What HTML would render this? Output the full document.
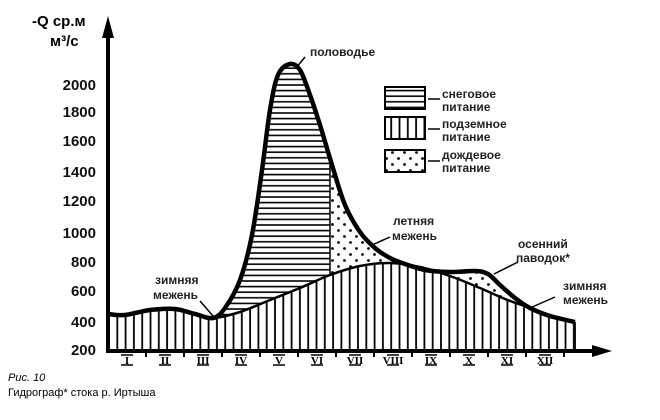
<!DOCTYPE html>
<html><head><meta charset="utf-8"><style>
html,body{margin:0;padding:0;background:#fff;width:660px;height:420px;overflow:hidden}
svg{display:block;font-family:"Liberation Sans",sans-serif}
</style></head><body>
<svg id="s" width="660" height="420" viewBox="0 0 660 420" xmlns="http://www.w3.org/2000/svg">
<defs>
<pattern id="hz" width="10" height="5.6" patternUnits="userSpaceOnUse"><rect width="10" height="5.6" fill="#fff"/><line x1="0" y1="1" x2="10" y2="1" stroke="#000" stroke-width="1.6"/></pattern>
<pattern id="vt" x="108" width="8.3" height="10" patternUnits="userSpaceOnUse"><rect width="8.3" height="10" fill="#fff"/><line x1="1" y1="0" x2="1" y2="10" stroke="#000" stroke-width="1.8"/></pattern>
<pattern id="dt" width="12" height="12" patternUnits="userSpaceOnUse"><rect width="12" height="12" fill="#fff"/><circle cx="2.5" cy="2.5" r="1.4" fill="#000"/><circle cx="8.5" cy="8.5" r="1.4" fill="#000"/></pattern>
<clipPath id="cl"><rect x="0" y="0" width="330" height="420"/></clipPath>
</defs>
<g id="areas"></g>
<line x1="108" y1="352" x2="108" y2="30" stroke="#000" stroke-width="4"/>
<polygon points="108,16 102,38 114,38" fill="#000"/>
<line x1="106" y1="351" x2="598" y2="351" stroke="#000" stroke-width="4"/>
<polygon points="612,351 592,345 592,357" fill="#000"/>
<g id="ticks"></g>
<g font-weight="bold" font-size="15" text-anchor="end" fill="#111">
<text x="96" y="90">2000</text><text x="96" y="117">1800</text><text x="96" y="146">1600</text>
<text x="96" y="177">1400</text><text x="96" y="206">1200</text><text x="96" y="238">1000</text>
<text x="96" y="267">800</text><text x="96" y="296">600</text><text x="96" y="327">400</text><text x="96" y="355">200</text>
</g>
<text x="32" y="26" font-size="15" font-weight="bold">-Q ср.м</text>
<text x="50" y="46" font-size="15" font-weight="bold">м³/с</text>
<g font-family="Liberation Serif,serif" font-weight="bold" font-size="11" text-anchor="middle" id="months"></g>
<rect x="385" y="87" width="40" height="22" fill="url(#hz)" stroke="#000" stroke-width="2"/>
<rect x="385" y="117" width="40" height="22" fill="url(#vt)" stroke="#000" stroke-width="2"/>
<rect x="385" y="150" width="40" height="22" fill="url(#dt)" stroke="#000" stroke-width="2"/>
<g stroke="#000" stroke-width="1.5"><line x1="428" y1="99" x2="440" y2="99"/><line x1="428" y1="129" x2="440" y2="129"/><line x1="428" y1="161" x2="440" y2="161"/>
<line x1="305" y1="57" x2="296" y2="68"/><line x1="390" y1="237" x2="372" y2="245"/><line x1="518" y1="262" x2="494" y2="274"/><line x1="555" y1="297" x2="530" y2="308"/><line x1="200" y1="301" x2="213" y2="316"/></g>
<g font-size="12" font-weight="bold" fill="#222">
<text x="442" y="98">снеговое</text><text x="442" y="111">питание</text>
<text x="442" y="128">подземное</text><text x="442" y="141">питание</text>
<text x="442" y="159">дождевое</text><text x="442" y="172">питание</text>
<text x="310" y="56">половодье</text>
<text x="393" y="225">летняя</text><text x="392" y="240">межень</text>
<text x="518" y="248">осенний</text><text x="516" y="262">паводок*</text>
<text x="563" y="290">зимняя</text><text x="563" y="304">межень</text>
<text x="155" y="284">зимняя</text><text x="153" y="299">межень</text>
</g>
<text x="8" y="381" font-size="11" font-style="italic">Рис. 10</text>
<text x="8" y="396" font-size="11">Гидрограф* стока р. Иртыша</text>
</svg>
<script>
function cr(p){let d="M"+p[0][0]+","+p[0][1];for(let i=0;i<p.length-1;i++){const a=p[i-1]||p[i],b=p[i],c=p[i+1],e=p[i+2]||c;d+=" C"+(b[0]+(c[0]-a[0])/6)+","+(b[1]+(c[1]-a[1])/6)+" "+(c[0]-(e[0]-b[0])/6)+","+(c[1]-(e[1]-b[1])/6)+" "+c[0]+","+c[1];}return d;}
const M=[[108,314],[125,315],[150,310],[175,309],[195,314],[213,318],[225,308],[240,280],[252,235],[262,170],[270,110],[278,75],[290,64],[300,70],[310,95],[320,125],[332,165],[345,205],[360,232],[375,248],[390,258],[405,264],[425,270],[450,272],[475,271],[488,274],[500,285],[515,298],[530,308],[550,316],[575,322]];
const G=[[108,314],[125,315],[150,310],[175,309],[195,314],[213,318],[240,312],[270,300],[300,288],[330,275],[360,266],[390,263],[420,267],[450,276],[480,288],[505,299],[530,308],[550,316],[575,322]];
const m=cr(M),g=cr(G),cl=" L575,351 L108,351 Z";
const NS="http://www.w3.org/2000/svg";
function add(par,tag,at){const e=document.createElementNS(NS,tag);for(const k in at)e.setAttribute(k,at[k]);par.appendChild(e);return e;}
const A=document.getElementById("areas");
add(A,"path",{d:m+cl,fill:"url(#dt)"});
add(A,"path",{d:m+cl,fill:"url(#hz)","clip-path":"url(#cl)"});
add(A,"path",{d:g+cl,fill:"url(#vt)"});
add(A,"line",{x1:575,y1:322,x2:575,y2:351,stroke:"#000","stroke-width":1.8});
add(A,"line",{x1:330,y1:165,x2:330,y2:275,stroke:"#000","stroke-width":1.5});
add(A,"path",{d:g,fill:"none",stroke:"#000","stroke-width":2.5});
add(A,"path",{d:m,fill:"none",stroke:"#000","stroke-width":4.5,"stroke-linejoin":"round"});
const T=document.getElementById("ticks"),MO=document.getElementById("months");
const R=["I","II","III","IV","V","VI","VII","VIII","IX","X","XI","XII"];
for(let i=0;i<12;i++){const x=127+38*i;add(T,"line",{x1:x+19,y1:351,x2:x+19,y2:357,stroke:"#000","stroke-width":2});
const t=add(MO,"text",{x:x,y:364});t.textContent=R[i];add(MO,"line",{x1:x-6,y1:365,x2:x+6,y2:365,stroke:"#000","stroke-width":1.5});add(MO,"line",{x1:x-6,y1:355,x2:x+6,y2:355,stroke:"#000","stroke-width":1.5});}
</script>
</body></html>
